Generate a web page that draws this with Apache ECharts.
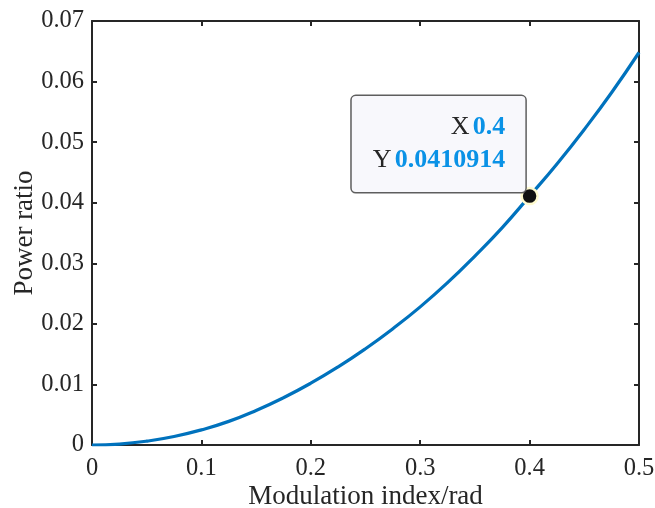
<!DOCTYPE html>
<html>
<head>
<meta charset="utf-8">
<script src="https://cdn.jsdelivr.net/npm/echarts@6/dist/echarts.min.js"></script>
<style>html,body{margin:0;padding:0;background:#fff}#c{width:655px;height:508px}</style>
</head>
<body>
<div id="c"></div>
<script>
var xValues = [0, 0.025, 0.05, 0.075, 0.1, 0.125, 0.15, 0.175, 0.2, 0.225, 0.25, 0.275, 0.3, 0.325, 0.35, 0.375, 0.4, 0.425, 0.45, 0.475, 0.5];
var powerRatio = [0, 0.00016, 0.00063, 0.0014, 0.0025, 0.0039, 0.0057, 0.0078, 0.0102, 0.0129, 0.0159, 0.0192, 0.0228, 0.0268, 0.0312, 0.0359, 0.0410914, 0.0464, 0.0521, 0.0582, 0.0648];
var tipX = 0.4;
var tipY = 0.0410914;
var xTitle = 'Modulation index/rad';
var yTitle = 'Power ratio';

var axisColor = '#262626';
var serif = '"Liberation Serif", "Times New Roman", serif';
var lineData = xValues.map(function (x, i) { return [x, powerRatio[i]]; });

var chart = echarts.init(document.getElementById('c'), null, {renderer: 'canvas'});
var baseAxis = {
  axisLine: {show: true, onZero: false, lineStyle: {color: axisColor, width: 2}},
  axisTick: {show: true, inside: true, length: 5, lineStyle: {color: axisColor, width: 2}},
  splitLine: {show: false}
};
chart.setOption({
  animation: false,
  backgroundColor: '#fff',
  grid: {left: 92, right: 16, top: 21, bottom: 63, containLabel: false, outerBoundsMode: 'none'},
  xAxis: [
    Object.assign({}, baseAxis, {
      type: 'value', min: 0, max: 0.5, interval: 0.1, position: 'bottom',
      name: xTitle, nameLocation: 'middle', nameGap: 38, nameMoveOverlap: false,
      nameTextStyle: {fontFamily: serif, fontSize: 27, color: axisColor},
      axisLabel: {show: true, margin: 11, fontFamily: serif, fontSize: 24.5, color: axisColor}
    }),
    Object.assign({}, baseAxis, {
      type: 'value', min: 0, max: 0.5, interval: 0.1, position: 'top',
      axisLabel: {show: false}
    })
  ],
  yAxis: [
    Object.assign({}, baseAxis, {
      type: 'value', min: 0, max: 0.07, interval: 0.01, position: 'left',
      name: yTitle, nameLocation: 'middle', nameGap: 54, nameRotate: 90, nameMoveOverlap: false,
      nameTextStyle: {fontFamily: serif, fontSize: 27, color: axisColor},
      axisLabel: {show: true, margin: 8, fontFamily: serif, fontSize: 24.5, color: axisColor}
    }),
    Object.assign({}, baseAxis, {
      type: 'value', min: 0, max: 0.07, interval: 0.01, position: 'right',
      axisLabel: {show: false}
    })
  ],
  series: [
    {
      type: 'line', data: lineData, smooth: true, showSymbol: false,
      lineStyle: {color: '#0072BD', width: 3.2},
      xAxisIndex: 0, yAxisIndex: 0, z: 2
    },
    {
      type: 'scatter', data: [[tipX, tipY]], symbol: 'circle', symbolSize: 16,
      itemStyle: {color: '#111', borderColor: '#fffbd0', borderWidth: 2.5, opacity: 1},
      xAxisIndex: 0, yAxisIndex: 0, z: 5,
      label: {
        show: true, position: 'left', distance: 0, offset: [5, -4],
        align: 'right', verticalAlign: 'bottom',
        backgroundColor: '#f8f8fc', borderColor: '#5e5e5e', borderWidth: 1.5, borderRadius: 4,
        padding: [15, 20, 15, 21], lineHeight: 33, opacity: 1,
        formatter: function () { return '{k|X} {v|' + tipX + '}\n{k|Y} {v|' + tipY + '}'; },
        rich: {
          k: {fontFamily: serif, fontSize: 26, color: '#262626', lineHeight: 33},
          v: {fontFamily: serif, fontSize: 26, fontWeight: 'bold', color: '#0a92e6', lineHeight: 33}
        }
      }
    }
  ]
});
</script>
</body>
</html>
